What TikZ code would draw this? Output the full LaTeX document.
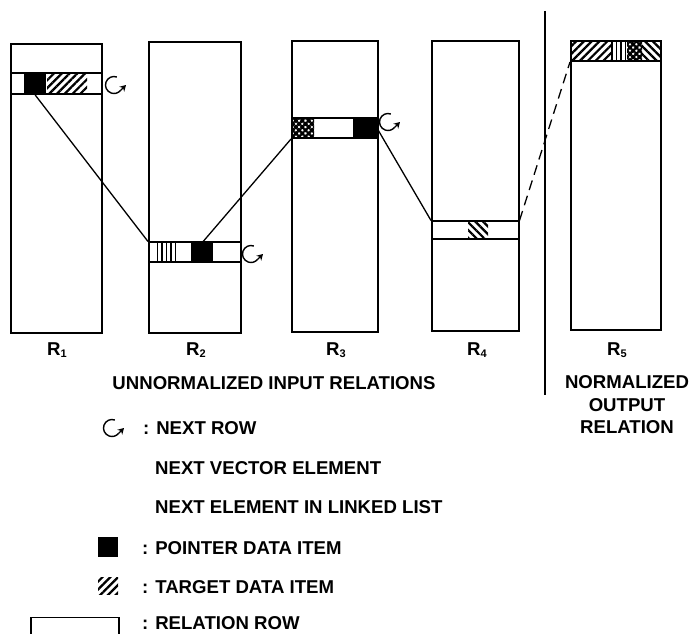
\documentclass[tikz,border=0pt]{standalone}
\usepackage{fontspec}
\setmainfont{Liberation Sans}
\usetikzlibrary{patterns.meta,arrows.meta}
\newcommand\relsub[1]{{\fontsize{11}{11}\selectfont\raisebox{-2.5pt}{#1}}}
\begin{document}
\begin{tikzpicture}[x=1pt,y=1pt,
  font=\fontsize{18.6}{22.5}\selectfont\bfseries,
  relbox/.style={draw, line width=1.7pt, inner sep=0pt, anchor=south west},
  rowbox/.style={draw, line width=1.5pt, inner sep=0pt, anchor=south west},
  cell/.style={inner sep=0pt, anchor=south west},
  ptr/.style={cell, fill=black},
  hatchR/.style={cell, pattern={Lines[angle=45,distance=5.5pt,line width=2.2pt]}},
  hatchL/.style={cell, pattern={Lines[angle=-45,distance=5.5pt,line width=2.2pt]}},
  vbars/.style={cell, pattern={Lines[angle=90,distance=4.5pt,line width=1.6pt]}},
  xhatch/.style={cell, pattern={Hatch[angle=45,distance=4.5pt,line width=2.4pt]}},
  link/.style={line width=1.3pt},
  lbl/.style={inner sep=0pt},
  txt/.style={inner sep=0pt, anchor=west},
  nextrow/.pic={
    \draw[line width=1.4pt] (70:8.5pt) arc[start angle=70, end angle=318, radius=8.5pt];
    \draw[line width=1.4pt, -{Stealth[length=6pt,width=7pt]}] (318:8.5pt) -- ++(45:8pt);}
]
\clip (0,0) rectangle (691,633);

% ---- relations R1..R5 ----
\node[relbox, minimum width=91pt, minimum height=289pt] (R1) at (10,299) {};
\node[relbox, minimum width=92pt, minimum height=291pt] (R2) at (148,299) {};
\node[relbox, minimum width=86pt, minimum height=291pt] (R3) at (291,300) {};
\node[relbox, minimum width=87pt, minimum height=290pt] (R4) at (431,301) {};
\node[relbox, minimum width=90pt, minimum height=289pt] (R5) at (570,302) {};

% R1 current row
\node[ptr, minimum width=22pt, minimum height=21pt] (r1p) at (24,538) {};
\node[hatchR, minimum width=40pt, minimum height=21pt] (r1t) at (46,538) {};
\node[rowbox, minimum width=91pt, minimum height=21pt] (r1row) at (10,538) {};

% R2 current row
\node[vbars, minimum width=24pt, minimum height=20pt] (r2v) at (154,370) {};
\node[ptr, minimum width=22pt, minimum height=20pt] (r2p) at (191,370) {};
\node[rowbox, minimum width=92pt, minimum height=20pt] (r2row) at (148,370) {};

% R3 current row
\node[xhatch, minimum width=22pt, minimum height=20pt] (r3x) at (291,494) {};
\node[ptr, minimum width=24pt, minimum height=20pt] (r3p) at (353,494) {};
\node[rowbox, minimum width=86pt, minimum height=20pt] (r3row) at (291,494) {};

% R4 current row
\node[hatchL, minimum width=20pt, minimum height=18pt] (r4t) at (467,393) {};
\node[rowbox, minimum width=87pt, minimum height=18pt] (r4row) at (431,393) {};

% R5 output row
\node[hatchR, minimum width=41pt, minimum height=20pt] (r5a) at (570,571) {};
\node[vbars, minimum width=16pt, minimum height=20pt] (r5b) at (611,571) {};
\node[xhatch, minimum width=15pt, minimum height=20pt] (r5c) at (627,571) {};
\node[hatchL, minimum width=18pt, minimum height=20pt] (r5d) at (642,571) {};
\node[rowbox, minimum width=90pt, minimum height=20pt] (r5row) at (570,571) {};

% next-row markers
\pic at (114,548) {nextrow};
\pic at (251,379) {nextrow};
\pic at (388,511) {nextrow};

% links between rows
\draw[link] (r1p.south) -- (r2row.north west);
\draw[link] (r2p.north) -- (r3row.south west);
\draw[link] (r3p.east) -- (r4row.north west);
\draw[link, dash pattern=on 10pt off 6pt] (r4row.north east) -- (r5row.south west);

% divider between input and output
\coordinate (dtop) at (545,622);
\coordinate (dbot) at (545,238);
\draw[line width=1.3pt] (dtop) -- (dbot);

% labels
\node[lbl] (l1) at (57,283) {R\relsub{1}};
\node[lbl] (l2) at (196,283) {R\relsub{2}};
\node[lbl] (l3) at (336,283) {R\relsub{3}};
\node[lbl] (l4) at (477,283) {R\relsub{4}};
\node[lbl] (l5) at (617,283) {R\relsub{5}};
\node[lbl] (inrel) at (274,250) {UNNORMALIZED INPUT RELATIONS};
\node[lbl, align=center] (outrel) at (627,228) {NORMALIZED\\OUTPUT\\RELATION};

% legend
\pic at (112,205) {nextrow};
\node[txt] (k1) at (143,205) {: NEXT ROW};
\node[txt] (k2) at (155,165) {NEXT VECTOR ELEMENT};
\node[txt] (k3) at (155,126) {NEXT ELEMENT IN LINKED LIST};
\node[ptr, minimum width=20pt, minimum height=20pt] (kp) at (98,76) {};
\node[txt] (k4) at (142,85) {: POINTER DATA ITEM};
\node[hatchR, minimum width=20pt, minimum height=17pt] (kt) at (98,38) {};
\node[txt] (k5) at (142,46) {: TARGET DATA ITEM};
\node[rowbox, minimum width=88pt, minimum height=30pt] (kr) at (30,-15) {};
\node[txt] (k6) at (142,9.5) {: RELATION ROW};
\end{tikzpicture}
\end{document}
